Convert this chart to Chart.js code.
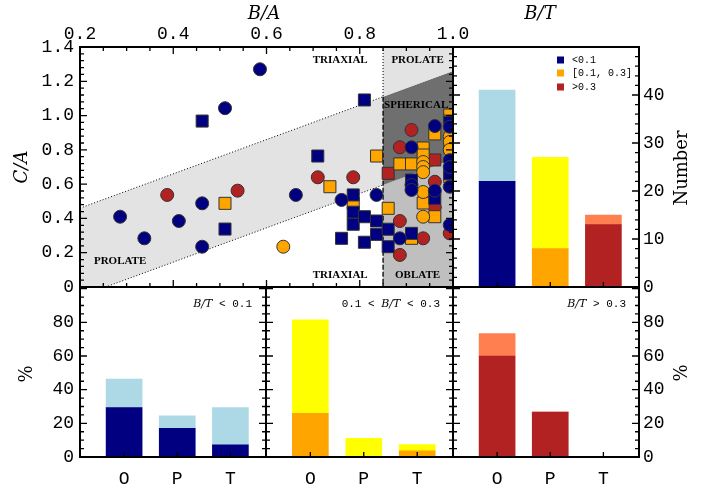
<!DOCTYPE html>
<html>
<head>
<meta charset="utf-8">
<script src="https://cdn.jsdelivr.net/npm/chart.js@4.4.1/dist/chart.umd.min.js"></script>
<style>
  html, body { margin: 0; padding: 0; background: #fff; }
  #wrap { position: relative; width: 713px; height: 490px; }
  #wrap canvas { position: absolute; left: 0; top: 0; }
</style>
</head>
<body>
<div id="wrap">
  <canvas id="shapeChart" width="713" height="490"></canvas>
  <canvas id="numberChart" width="713" height="490"></canvas>
  <canvas id="lowChart" width="713" height="490"></canvas>
  <canvas id="midChart" width="713" height="490"></canvas>
  <canvas id="highChart" width="713" height="490"></canvas>
</div>
<script>
// ---- data ----
// [B/A, C/A] per galaxy, split by B/T class and marker shape
const blueCircles = [
  [0.286, 0.410], [0.338, 0.284], [0.412, 0.385], [0.462, 0.488], [0.462, 0.235],
  [0.511, 1.043], [0.586, 1.270], [0.663, 0.537], [0.761, 0.508], [0.836, 0.537],
  [0.886, 0.284], [0.911, 0.815], [0.911, 0.595], [0.911, 0.566], [0.961, 0.939],
  [0.961, 0.562], [0.993, 0.935], [0.993, 0.740], [0.993, 0.700], [0.993, 0.585],
  [0.993, 0.362],
];
const blueSquares = [
  [0.462, 0.968], [0.511, 0.338], [0.710, 0.764], [0.761, 0.284], [0.786, 0.537],
  [0.786, 0.436], [0.786, 0.366], [0.810, 1.091], [0.810, 0.410], [0.810, 0.261],
  [0.836, 0.385], [0.836, 0.307], [0.861, 0.337], [0.861, 0.235], [0.911, 0.624],
  [0.911, 0.313], [0.961, 0.517], [0.993, 0.960], [0.993, 0.660],
];
const orangeCircles = [
  [0.636, 0.235], [0.936, 0.729], [0.936, 0.700], [0.936, 0.670], [0.936, 0.554],
  [0.936, 0.410], [0.993, 0.877], [0.993, 0.846], [0.993, 0.800],
];
const orangeSquares = [
  [0.511, 0.488], [0.736, 0.585], [0.786, 0.488], [0.836, 0.764], [0.861, 0.459],
  [0.886, 0.718], [0.911, 0.718], [0.911, 0.284], [0.936, 0.811], [0.936, 0.770],
  [0.936, 0.490], [0.961, 0.893], [0.961, 0.410], [0.993, 1.003], [0.993, 0.968],
  [0.993, 0.819], [0.993, 0.644],
];
const redCircles = [
  [0.387, 0.537], [0.538, 0.562], [0.710, 0.640], [0.786, 0.640], [0.886, 0.815],
  [0.886, 0.385], [0.886, 0.187], [0.911, 0.916], [0.936, 0.284], [0.961, 0.614],
  [0.961, 0.465], [0.993, 0.313],
];
const redSquares = [[0.861, 0.663], [0.961, 0.741]];

// shape-class boundaries: C/A = B/A + offset, split at B/A = SPLIT
const UPPER_OFFSET = 0.26;
const LOWER_OFFSET = -0.255;
const SPLIT = 0.85;

const BA_TICKS = [0.2, 0.4, 0.6, 0.8, 1.0];
const CA_TICKS = [0, 0.2, 0.4, 0.6, 0.8, 1.0, 1.2, 1.4];

// histograms: dark = lower segment, light = segment stacked on top
const CATEGORIES = ['O', 'P', 'T'];
const LEGEND_LABELS = ['<0.1', '[0.1, 0.3]', '>0.3'];
const countDark = [22, 8, 13];
const countLight = [19, 19, 2];
const lowDark = [29.3, 17.1, 7.3];
const lowLight = [17.0, 7.3, 22.0];
const midDark = [25.9, 0, 3.7];
const midLight = [55.6, 11.1, 3.7];
const highDark = [60.0, 26.7, 0];
const highLight = [13.3, 0, 0];
const NUMBER_TICKS = [0, 10, 20, 30, 40];
const PERCENT_TICKS = [0, 20, 40, 60, 80];

// ---- styling ----
const NAVY = '#000080', ORANGE = '#ffa500', RED = '#b22222';
const CLASS_DARK = [NAVY, ORANGE, RED];
const CLASS_LIGHT = ['#add8e6', '#ffff00', '#ff7f50'];
const GREY_LIGHT = '#e3e3e3', GREY_DARK = '#6f6f6f', GREY_MID = '#bfbfbf';
const MONO = '"Liberation Mono", monospace';
const TITLE_FONT = '18px "DejaVu Serif", serif';
const TITLE_ITALIC = 'italic 18px "DejaVu Serif", serif';
const W = 713, H = 490;
const AXIS_W = 40, AXIS_H = 30;
const BAR_OFFSET = 0.83;
const BAR_SPAN = 3.5;

Chart.defaults.color = '#000';
Chart.defaults.font.family = MONO;
Chart.defaults.font.size = 18;
Chart.defaults.animation = false;

function tickMarks(min, max, major, minor) {
  const out = [];
  const n = Math.round((max - min) / minor);
  for (let i = 0; i <= n; i++) {
    const v = min + i * minor;
    const r = v / major;
    out.push({ value: v, major: Math.abs(r - Math.round(r)) < 1e-6 });
  }
  return out;
}

function makeFrame(xMarks, xSides, yMarks, ySides) {
  return {
    id: 'frame',
    afterDatasetsDraw(chart) {
      const { ctx, chartArea: a, scales } = chart;
      ctx.save();
      ctx.strokeStyle = '#000';
      ctx.lineWidth = 1.3;
      ctx.beginPath();
      for (const m of xMarks) {
        const px = scales.x.getPixelForValue(m.value);
        const len = m.len || (m.major ? 7 : 4);
        if (xSides.includes('bottom')) { ctx.moveTo(px, a.bottom); ctx.lineTo(px, a.bottom - len); }
        if (xSides.includes('top')) { ctx.moveTo(px, a.top); ctx.lineTo(px, a.top + len); }
      }
      for (const m of yMarks) {
        const py = scales.y.getPixelForValue(m.value);
        const len = m.major ? 7 : 4;
        if (ySides.includes('left')) { ctx.moveTo(a.left, py); ctx.lineTo(a.left + len, py); }
        if (ySides.includes('right')) { ctx.moveTo(a.right, py); ctx.lineTo(a.right - len, py); }
      }
      ctx.stroke();
      ctx.lineWidth = 2;
      ctx.strokeRect(a.left, a.top, a.right - a.left, a.bottom - a.top);
      ctx.restore();
    }
  };
}

// text items: {parts: [[text, font]], x, y, align, rotate, data}
function makeTexts(items) {
  return {
    id: 'texts',
    afterDraw(chart) {
      const { ctx, scales } = chart;
      for (const it of items) {
        const x = it.data ? scales.x.getPixelForValue(it.x) : it.x;
        const y = it.data ? scales.y.getPixelForValue(it.y) : it.y;
        ctx.save();
        ctx.translate(x, y);
        if (it.rotate) ctx.rotate(it.rotate);
        ctx.fillStyle = '#000';
        ctx.textBaseline = 'middle';
        ctx.textAlign = 'left';
        const widths = it.parts.map(([t, f]) => { ctx.font = f; return ctx.measureText(t).width; });
        const total = widths.reduce((s, w) => s + w, 0);
        let cx = it.align === 'right' ? -total : -total / 2;
        it.parts.forEach(([t, f], i) => { ctx.font = f; ctx.fillText(t, cx, 0); cx += widths[i]; });
        ctx.restore();
      }
    }
  };
}

const legendPlugin = {
  id: 'classLegend',
  afterDraw(chart) {
    const ctx = chart.ctx;
    const rows = [60, 73, 87];
    ctx.save();
    ctx.font = '10px ' + MONO;
    ctx.textBaseline = 'middle';
    LEGEND_LABELS.forEach((label, i) => {
      ctx.fillStyle = CLASS_DARK[i];
      ctx.fillRect(557, rows[i] - 3.5, 7, 7);
      ctx.fillStyle = '#000';
      ctx.fillText(label, 572, rows[i]);
    });
    ctx.restore();
  }
};

// ---- B/A vs C/A ----
const toXY = (arr) => arr.map(([x, y]) => ({ x, y }));
function markerSet(points, color, style) {
  return {
    data: toXY(points),
    backgroundColor: color,
    borderColor: '#333',
    borderWidth: 1,
    pointStyle: style,
    pointRadius: style === 'rect' ? 8.5 : 6.5,
    clip: 0,
    order: 0,
  };
}
const boundary = (x0, x1, off) => [{ x: x0, y: x0 + off }, { x: x1, y: x1 + off }];
const dotted = { borderColor: '#000', borderWidth: 1, borderDash: [1, 2] };

new Chart(document.getElementById('shapeChart'), {
  type: 'scatter',
  data: {
    datasets: [
      { type: 'line', data: boundary(0.2, SPLIT, LOWER_OFFSET), fill: 1, backgroundColor: GREY_LIGHT, ...dotted, pointRadius: 0, order: 10 },
      { type: 'line', data: boundary(0.2, SPLIT, UPPER_OFFSET), fill: false, ...dotted, pointRadius: 0, order: 9 },
      { type: 'line', data: boundary(SPLIT, 1.0, UPPER_OFFSET), fill: 'end', backgroundColor: GREY_LIGHT, borderWidth: 0, pointRadius: 0, order: 10 },
      { type: 'line', data: boundary(SPLIT, 1.0, LOWER_OFFSET), fill: 2, backgroundColor: GREY_DARK, borderWidth: 0, pointRadius: 0, order: 10 },
      { type: 'line', data: boundary(SPLIT, 1.0, LOWER_OFFSET), fill: 'start', backgroundColor: GREY_MID, borderWidth: 0, pointRadius: 0, order: 10 },
      { type: 'line', data: [{ x: SPLIT, y: 1.4 }, { x: SPLIT, y: SPLIT + UPPER_OFFSET }], fill: false, ...dotted, pointRadius: 0, order: 5 },
      { type: 'line', data: [{ x: SPLIT, y: SPLIT + UPPER_OFFSET }, { x: SPLIT, y: 0 }], fill: false, borderColor: '#000', borderWidth: 1.3, borderDash: [5, 2], pointRadius: 0, order: 5 },
      markerSet(blueCircles, NAVY, 'circle'),
      markerSet(blueSquares, NAVY, 'rect'),
      markerSet(orangeCircles, ORANGE, 'circle'),
      markerSet(orangeSquares, ORANGE, 'rect'),
      markerSet(redCircles, RED, 'circle'),
      markerSet(redSquares, RED, 'rect'),
    ],
  },
  options: {
    responsive: false,
    events: [],
    layout: { padding: { left: 80 - AXIS_W, top: 47 - AXIS_H, right: W - 453, bottom: H - 287 } },
    plugins: { legend: { display: false }, tooltip: { enabled: false } },
    scales: {
      x: {
        type: 'linear', position: 'top', min: 0.2, max: 1.0,
        grid: { display: false, drawTicks: false }, border: { display: false },
        afterBuildTicks: (s) => { s.ticks = BA_TICKS.map(v => ({ value: v })); },
        afterFit: (s) => { s.height = AXIS_H; },
        ticks: { padding: 2, autoSkip: false, maxRotation: 0, callback: (v) => v.toFixed(1) },
      },
      y: {
        type: 'linear', min: 0, max: 1.4,
        grid: { display: false, drawTicks: false }, border: { display: false },
        afterBuildTicks: (s) => { s.ticks = CA_TICKS.map(v => ({ value: v })); },
        afterFit: (s) => { s.width = AXIS_W; },
        ticks: { padding: 6, autoSkip: false, callback: (v) => (v === 0 ? '0' : v.toFixed(1)) },
      },
    },
  },
  plugins: [
    makeFrame(tickMarks(0.2, 1.0, 0.2, 0.05), ['top', 'bottom'], tickMarks(0, 1.4, 0.2, 0.04), ['left', 'right']),
    makeTexts([
      { parts: [['B/A', TITLE_ITALIC]], x: 264, y: 14 },
      { parts: [['C/A', TITLE_ITALIC]], x: 22, y: 167, rotate: -Math.PI / 2 },
      { parts: [['TRIAXIAL', 'bold 11px "Liberation Serif"']], x: 0.758, y: 1.325, data: true },
      { parts: [['PROLATE', 'bold 11px "Liberation Serif"']], x: 0.924, y: 1.325, data: true },
      { parts: [['SPHERICAL', 'bold 11px "Liberation Serif"']], x: 0.921, y: 1.062, data: true },
      { parts: [['PROLATE', 'bold 11px "Liberation Serif"']], x: 0.286, y: 0.148, data: true },
      { parts: [['TRIAXIAL', 'bold 11px "Liberation Serif"']], x: 0.758, y: 0.07, data: true },
      { parts: [['OBLATE', 'bold 11px "Liberation Serif"']], x: 0.924, y: 0.07, data: true },
    ]),
  ],
});

// ---- histograms ----
function barChart(id, cfg) {
  const { dark, light, darkColor, lightColor, area, yMax, yTicks, yMarks, yLabels, xLabels, texts, extra } = cfg;
  const atCat = (vals) => vals.map((v, i) => ({ x: i + BAR_OFFSET, y: v }));
  const padding = {
    left: yLabels === 'left' ? area.l - AXIS_W : area.l,
    right: yLabels === 'right' ? W - area.r - AXIS_W : W - area.r,
    top: area.t,
    bottom: xLabels ? H - area.b - AXIS_H : H - area.b,
  };
  const catMarks = CATEGORIES.map((c, i) => ({ value: i + BAR_OFFSET, major: true, len: 5 }));
  return new Chart(document.getElementById(id), {
    type: 'bar',
    data: {
      datasets: [
        { data: atCat(dark), backgroundColor: darkColor, borderWidth: 0, barThickness: 36 },
        { data: atCat(light), backgroundColor: lightColor, borderWidth: 0, barThickness: 36 },
      ],
    },
    options: {
      responsive: false,
      events: [],
      layout: { padding },
      plugins: { legend: { display: false }, tooltip: { enabled: false } },
      scales: {
        x: {
          type: 'linear', min: 0, max: BAR_SPAN, stacked: true, offset: false,
          grid: { display: false, drawTicks: false, offset: false }, border: { display: false },
          afterBuildTicks: (s) => { s.ticks = CATEGORIES.map((c, i) => ({ value: i + BAR_OFFSET })); },
          afterFit: (s) => { s.height = xLabels ? AXIS_H : 0; },
          ticks: { display: !!xLabels, padding: 11, autoSkip: false, maxRotation: 0, callback: (v, i) => CATEGORIES[i] },
        },
        y: {
          type: 'linear', min: 0, max: yMax, stacked: true, position: yLabels || 'left',
          grid: { display: false, drawTicks: false }, border: { display: false },
          afterBuildTicks: (s) => { s.ticks = yTicks.map(v => ({ value: v })); },
          afterFit: (s) => { s.width = yLabels ? AXIS_W : 0; },
          ticks: { display: !!yLabels, padding: yLabels === 'right' ? 4 : 6, autoSkip: false },
        },
      },
    },
    plugins: [makeFrame(catMarks, ['bottom'], yMarks, ['left', 'right']), makeTexts(texts)].concat(extra || []),
  });
}

const PANEL_LABEL = 'italic 11px "DejaVu Serif", serif';
const PANEL_TEXT = '11px ' + MONO;

barChart('numberChart', {
  dark: countDark, light: countLight, darkColor: CLASS_DARK, lightColor: CLASS_LIGHT,
  area: { l: 453, t: 47, r: 639, b: 287 }, yMax: 50, yTicks: NUMBER_TICKS,
  yMarks: tickMarks(0, 50, 10, 2), yLabels: 'right', xLabels: false,
  texts: [
    { parts: [['B/T', TITLE_ITALIC]], x: 540, y: 14 },
    { parts: [['Number', TITLE_FONT]], x: 682, y: 168, rotate: -Math.PI / 2 },
  ],
  extra: [legendPlugin],
});

barChart('lowChart', {
  dark: lowDark, light: lowLight, darkColor: NAVY, lightColor: CLASS_LIGHT[0],
  area: { l: 80, t: 287, r: 266, b: 457 }, yMax: 101, yTicks: PERCENT_TICKS,
  yMarks: tickMarks(0, 100, 20, 5), yLabels: 'left', xLabels: true,
  texts: [
    { parts: [['%', TITLE_FONT]], x: 27, y: 374, rotate: -Math.PI / 2 },
    { parts: [['B/T', PANEL_LABEL], [' < 0.1', PANEL_TEXT]], x: 252, y: 304, align: 'right' },
  ],
});

barChart('midChart', {
  dark: midDark, light: midLight, darkColor: ORANGE, lightColor: CLASS_LIGHT[1],
  area: { l: 266, t: 287, r: 453, b: 457 }, yMax: 101, yTicks: PERCENT_TICKS,
  yMarks: tickMarks(0, 100, 20, 5), yLabels: null, xLabels: true,
  texts: [
    { parts: [['0.1 < ', PANEL_TEXT], ['B/T', PANEL_LABEL], [' < 0.3', PANEL_TEXT]], x: 440, y: 304, align: 'right' },
  ],
});

barChart('highChart', {
  dark: highDark, light: highLight, darkColor: RED, lightColor: CLASS_LIGHT[2],
  area: { l: 453, t: 287, r: 639, b: 457 }, yMax: 101, yTicks: PERCENT_TICKS,
  yMarks: tickMarks(0, 100, 20, 5), yLabels: 'right', xLabels: true,
  texts: [
    { parts: [['%', TITLE_FONT]], x: 682, y: 373, rotate: -Math.PI / 2 },
    { parts: [['B/T', PANEL_LABEL], [' > 0.3', PANEL_TEXT]], x: 626, y: 304, align: 'right' },
  ],
});
</script>
</body>
</html>
